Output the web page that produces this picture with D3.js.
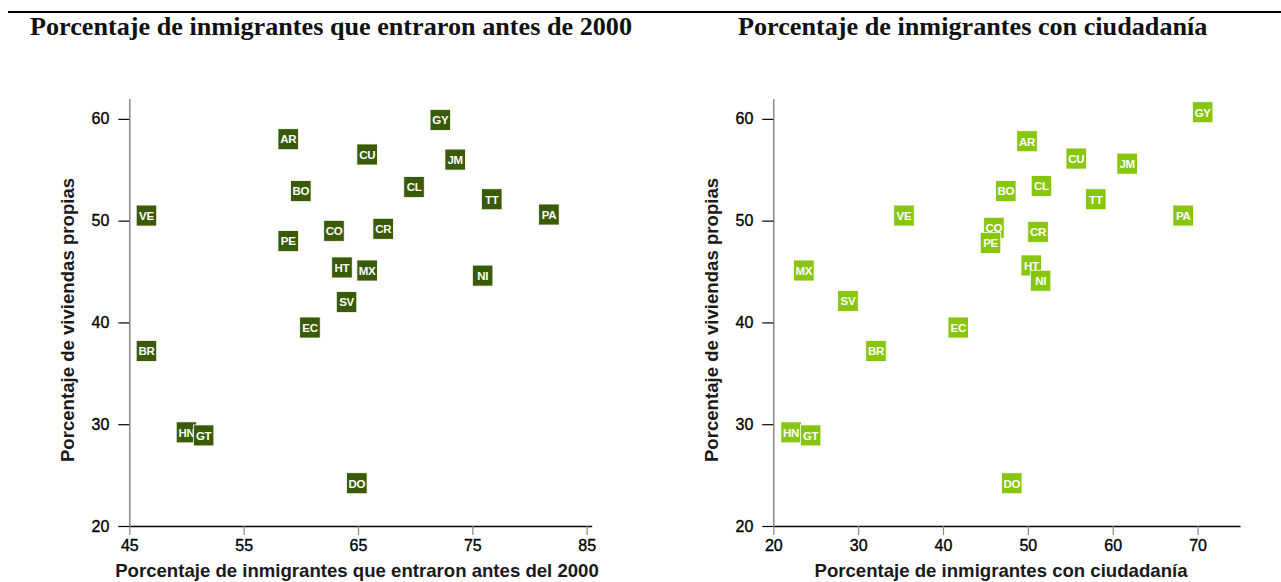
<!DOCTYPE html>
<html><head><meta charset="utf-8">
<script src="https://cdn.jsdelivr.net/npm/d3@7"></script>
<style>body{margin:0;background:#fff} svg{display:block}</style>
</head><body>
<svg id="c" width="1281" height="582"></svg>
<script>
// ---- data ----
const codes =          ["AR","BO","BR","CL","CO","CR","CU","DO","EC","SV","GY","HN","GT","HT","JM","MX","NI","PA","PE","TT","VE"];
const entryBefore2000 = [58.9,60.0,46.5,69.9,62.9,67.2,65.8,64.9,60.8,64.0,72.2,50.0,51.5,63.6,73.5,65.8,75.9,81.7,58.9,76.7,46.5];
const ownLeft =         [58.0,52.9,37.2,53.3,49.0,49.2,56.5,24.2,39.5,42.0,59.9,29.2,28.9,45.4,56.0,45.1,44.6,50.6,48.0,52.1,50.5];
const citizenship =     [49.9,47.4,32.1,51.6,46.0,51.2,55.7,48.1,41.8,28.8,70.6,22.1,24.4,50.4,61.7,23.6,51.5,68.3,45.6,58.0,35.4];
const ownRight =        [57.8,52.9,37.2,53.4,49.3,48.9,56.1,24.2,39.5,42.1,60.65,29.2,28.9,45.6,55.6,45.1,44.1,50.5,47.8,52.1,50.5];
const xTicksLeft = [45,55,65,75,85];
const xTicksRight = [20,30,40,50,60,70];
const yTicks = [20,30,40,50,60];
const panelTitles = ["Porcentaje de inmigrantes que entraron antes de 2000","Porcentaje de inmigrantes con ciudadanía"];
const xTitles = ["Porcentaje de inmigrantes que entraron antes del 2000","Porcentaje de inmigrantes con ciudadanía"];
const yTitle = "Porcentaje de viviendas propias";

const svg = d3.select("#c");
svg.append("line").attr("x1",8).attr("x2",1281).attr("y1",12).attr("y2",12)
  .attr("stroke","#000").attr("stroke-width",2);

const yScale = d3.scaleLinear().domain([20,62]).range([526,98.5]);

function panel(cfg){
  const x = d3.scaleLinear().domain(cfg.domain).range(cfg.range);
  const g = svg.append("g");
  g.append("text").attr("x",cfg.titleX).attr("y",35)
    .attr("font-family","Liberation Serif").attr("font-weight","bold").attr("font-size",26.2)
    .attr("fill","#111").text(cfg.title);

  const xa = g.append("g").attr("transform",`translate(0,526)`)
    .call(d3.axisBottom(x).tickValues(cfg.xTicks).tickSize(9).tickSizeOuter(0).tickPadding(5).tickFormat(d3.format("d")));
  xa.select(".domain").attr("stroke","#000").attr("stroke-width",1.5);
  xa.selectAll(".tick line").attr("stroke","#888").attr("stroke-width",1.2);
  xa.selectAll("text").attr("font-family","Liberation Sans").attr("font-size",16).attr("fill","#000")
    .attr("stroke","#000").attr("stroke-width",0.35);

  const ya = g.append("g").attr("transform",`translate(${cfg.range[0]},0)`)
    .call(d3.axisLeft(yScale).tickValues(yTicks).tickSize(11).tickSizeOuter(0).tickPadding(9));
  ya.select(".domain").attr("stroke","#888").attr("stroke-width",1.5);
  ya.selectAll(".tick line").attr("stroke","#000").attr("stroke-width",1.2);
  ya.selectAll("text").attr("font-family","Liberation Sans").attr("font-size",16).attr("fill","#000")
    .attr("stroke","#000").attr("stroke-width",0.35);

  g.append("text").attr("x",cfg.xTitleX).attr("y",577).attr("text-anchor","middle")
    .attr("font-family","Liberation Sans").attr("font-weight","bold").attr("font-size",18.6)
    .attr("fill","#1a1a1a").text(cfg.xTitle);
  g.append("text").attr("transform",`translate(${cfg.range[0]-55},320) rotate(-90)`)
    .attr("text-anchor","middle")
    .attr("font-family","Liberation Sans").attr("font-weight","bold").attr("font-size",18.6)
    .attr("fill","#1a1a1a").text(yTitle);

  const pts = g.selectAll("g.pt").data(codes.map((c,i)=>({c, x:cfg.xs[i], y:cfg.ys[i]})))
    .join("g").attr("class","pt")
    .attr("transform",d=>`translate(${x(d.x)},${yScale(d.y)})`);
  pts.append("rect").attr("x",-10.25).attr("y",-10.5).attr("width",20.5).attr("height",21)
    .attr("fill",cfg.color).attr("stroke","#fff").attr("stroke-width",0.8);
  pts.append("text").attr("text-anchor","middle").attr("dy","0.37em")
    .attr("font-family","Liberation Sans").attr("font-weight","bold").attr("font-size",11.5)
    .attr("letter-spacing",-0.3)
    .attr("fill","#fff").text(d=>d.c);
}

panel({domain:[45,85.44], range:[129.3,591.7], xTicks:xTicksLeft, xs:entryBefore2000, ys:ownLeft,
  color:"#3a5a05", title:panelTitles[0], titleX:30, xTitle:xTitles[0], xTitleX:357});
panel({domain:[20,75], range:[773.3,1240], xTicks:xTicksRight, xs:citizenship, ys:ownRight,
  color:"#88c60e", title:panelTitles[1], titleX:738, xTitle:xTitles[1], xTitleX:1001});
</script>
</body></html>
